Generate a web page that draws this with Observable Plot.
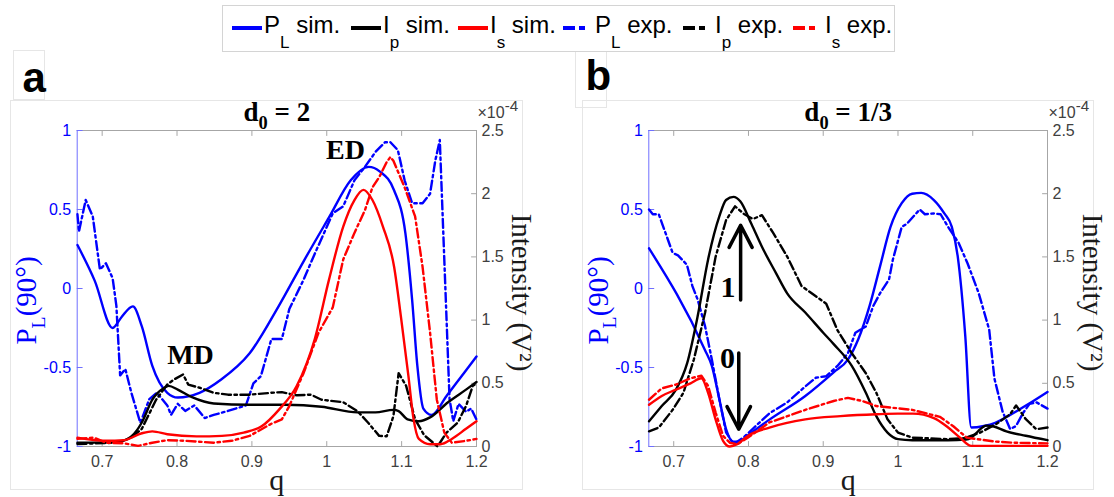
<!DOCTYPE html>
<html><head><meta charset="utf-8">
<script src="https://cdn.jsdelivr.net/npm/d3@7"></script>
<script src="https://cdn.jsdelivr.net/npm/@observablehq/plot@0.6"></script>
<style>
body{margin:0;background:#fff;}
#fig{position:relative;width:1114px;height:497px;overflow:hidden;font-family:"Liberation Sans",Arial,sans-serif;}
#fig svg.layer{position:absolute;left:0;top:0;}
.box{position:absolute;border:1px solid #e6e6e6;box-sizing:border-box;}
.leg{position:absolute;font-size:24px;line-height:24px;color:#000;white-space:nowrap;}
.leg .sub{position:relative;top:15px;font-size:17px;}
</style></head><body><div id="fig"></div>
<script>
// ---------- data ----------
const xTicks = [0.7, 0.8, 0.9, 1, 1.1, 1.2];
const plTicks = [-1, -0.5, 0, 0.5, 1];
const intTicks = [0, 0.5, 1, 1.5, 2, 2.5];
const qDomain = [2/3, 1.2];
const plDomain = [-1, 1];
const intDomain = [0, 2.5];   // units of 1e-4 V^2

// panel a (d0 = 2): [q, value]
const aPLsim = [[0.667,0.275],[0.690,0.05],[0.714,-0.25],[0.726,-0.18],[0.741,-0.113],[0.753,-0.24],[0.767,-0.49],[0.787,-0.66],[0.801,-0.69],[0.830,-0.66],[0.859,-0.576],[0.897,-0.41],[0.936,-0.11],[0.970,0.18],[1.003,0.45],[1.032,0.685],[1.056,0.77],[1.071,0.74],[1.090,0.62],[1.105,0.35],[1.114,-0.07],[1.121,-0.49],[1.129,-0.76],[1.140,-0.80],[1.160,-0.68],[1.180,-0.555],[1.2,-0.43]];
const aPLexp = [[0.667,0.47],[0.669,0.36],[0.678,0.56],[0.6875,0.455],[0.697,0.12],[0.705,0.16],[0.714,0.065],[0.719,-0.11],[0.724,-0.55],[0.731,-0.51],[0.739,-0.66],[0.751,-0.85],[0.763,-0.70],[0.773,-0.66],[0.787,-0.74],[0.792,-0.80],[0.801,-0.73],[0.811,-0.775],[0.823,-0.74],[0.837,-0.82],[0.849,-0.80],[0.868,-0.775],[0.892,-0.74],[0.902,-0.60],[0.912,-0.555],[0.926,-0.32],[0.940,-0.32],[0.950,-0.13],[0.969,0.055],[0.984,0.22],[1.008,0.475],[1.022,0.52],[1.037,0.685],[1.051,0.77],[1.066,0.87],[1.078,0.926],[1.085,0.926],[1.095,0.875],[1.104,0.685],[1.114,0.54],[1.128,0.54],[1.138,0.60],[1.145,0.81],[1.151,0.94],[1.154,0.56],[1.159,-0.07],[1.164,-0.70],[1.169,-0.84],[1.176,-0.73],[1.186,-0.78],[1.193,-0.76],[1.2,-0.83]];
const aIpsim = [[0.667,0.03],[0.72,0.035],[0.739,0.08],[0.753,0.19],[0.767,0.37],[0.782,0.46],[0.789,0.48],[0.801,0.45],[0.820,0.39],[0.849,0.34],[0.897,0.33],[0.945,0.33],[0.993,0.315],[1.041,0.27],[1.065,0.27],[1.089,0.29],[1.096,0.28],[1.108,0.215],[1.123,0.20],[1.138,0.23],[1.162,0.35],[1.186,0.45],[1.2,0.51]];
const aIpexp = [[0.667,0.02],[0.72,0.03],[0.739,0.07],[0.753,0.14],[0.772,0.37],[0.787,0.49],[0.796,0.53],[0.808,0.57],[0.815,0.49],[0.830,0.465],[0.849,0.425],[0.868,0.41],[0.897,0.41],[0.926,0.425],[0.940,0.43],[0.960,0.405],[0.979,0.41],[0.993,0.37],[1.022,0.35],[1.041,0.28],[1.055,0.19],[1.070,0.084],[1.080,0.08],[1.089,0.24],[1.096,0.58],[1.106,0.48],[1.118,0.215],[1.130,0.09],[1.148,0.0],[1.160,0.11],[1.175,0.19],[1.186,0.32],[1.195,0.48],[1.2,0.50]];
const aIssim = [[0.667,0.07],[0.705,0.045],[0.729,0.05],[0.753,0.105],[0.767,0.12],[0.787,0.097],[0.826,0.08],[0.860,0.084],[0.889,0.11],[0.913,0.16],[0.936,0.29],[0.960,0.48],[0.984,0.85],[1.003,1.32],[1.022,1.74],[1.037,1.95],[1.049,2.03],[1.061,1.95],[1.075,1.74],[1.090,1.42],[1.099,1.03],[1.109,0.56],[1.116,0.215],[1.123,0.06],[1.138,0.018],[1.152,0.018],[1.167,0.06],[1.186,0.14],[1.2,0.2]];
const aIsexp = [[0.667,0.06],[0.689,0.07],[0.705,0.03],[0.729,0.025],[0.748,0.005],[0.767,0.03],[0.787,0.05],[0.811,0.045],[0.849,0.03],[0.873,0.045],[0.897,0.084],[0.926,0.18],[0.940,0.215],[0.950,0.32],[0.969,0.58],[0.989,0.9],[1.008,1.1],[1.022,1.48],[1.037,1.69],[1.051,1.87],[1.061,2.05],[1.070,2.13],[1.080,2.25],[1.085,2.29],[1.089,2.26],[1.104,2.05],[1.118,1.82],[1.128,1.42],[1.138,0.9],[1.147,0.37],[1.157,0.11],[1.167,0.03],[1.186,0.045],[1.2,0.06]];

// panel b (d0 = 1/3)
const bPLsim = [[0.667,0.254],[0.7416,-0.387],[0.751,-0.49],[0.761,-0.70],[0.770,-0.89],[0.780,-0.97],[0.787,-0.97],[0.799,-0.93],[0.828,-0.83],[0.876,-0.68],[0.914,-0.53],[0.933,-0.45],[0.947,-0.32],[0.962,-0.11],[0.976,0.14],[0.990,0.39],[1.005,0.54],[1.019,0.60],[1.031,0.605],[1.048,0.56],[1.062,0.475],[1.072,0.39],[1.080,0.2],[1.090,-0.3],[1.098,-0.88],[1.115,-0.87],[1.130,-0.85],[1.150,-0.80],[1.175,-0.73],[1.2,-0.655]];
const bPLexp = [[0.667,0.50],[0.672,0.47],[0.680,0.47],[0.6986,0.225],[0.7057,0.21],[0.7177,0.15],[0.725,0.015],[0.732,-0.07],[0.742,-0.24],[0.751,-0.45],[0.761,-0.70],[0.770,-0.91],[0.780,-0.985],[0.794,-0.94],[0.828,-0.79],[0.852,-0.72],[0.876,-0.62],[0.890,-0.565],[0.904,-0.555],[0.919,-0.49],[0.933,-0.41],[0.943,-0.28],[0.957,-0.24],[0.967,-0.11],[0.976,-0.03],[0.988,0.057],[0.993,0.18],[1.005,0.39],[1.012,0.41],[1.029,0.50],[1.036,0.47],[1.048,0.475],[1.057,0.47],[1.067,0.39],[1.081,0.29],[1.093,0.16],[1.108,-0.03],[1.122,-0.26],[1.129,-0.57],[1.140,-0.78],[1.150,-0.89],[1.158,-0.87],[1.167,-0.79],[1.176,-0.73],[1.185,-0.72],[1.2,-0.76]];
const bIpsim = [[0.667,0.2],[0.684,0.32],[0.703,0.45],[0.718,0.66],[0.732,1.03],[0.746,1.48],[0.761,1.82],[0.770,1.95],[0.780,1.975],[0.789,1.94],[0.804,1.76],[0.818,1.58],[0.837,1.37],[0.852,1.21],[0.876,1.06],[0.900,0.9],[0.914,0.81],[0.938,0.64],[0.957,0.425],[0.971,0.24],[0.986,0.11],[1.000,0.058],[1.019,0.05],[1.067,0.05],[1.091,0.055],[1.098,0.07],[1.107,0.12],[1.118,0.165],[1.127,0.16],[1.145,0.12],[1.171,0.085],[1.2,0.05]];
const bIpexp = [[0.667,0.12],[0.680,0.15],[0.6986,0.29],[0.713,0.425],[0.727,0.69],[0.742,1.06],[0.756,1.5],[0.770,1.79],[0.782,1.9],[0.794,1.84],[0.806,1.8],[0.818,1.83],[0.833,1.69],[0.852,1.5],[0.871,1.27],[0.885,1.21],[0.904,1.13],[0.919,0.92],[0.938,0.74],[0.957,0.58],[0.971,0.425],[0.986,0.215],[1.000,0.11],[1.019,0.07],[1.067,0.058],[1.088,0.065],[1.110,0.11],[1.132,0.18],[1.150,0.255],[1.158,0.325],[1.171,0.216],[1.185,0.137],[1.2,0.15]];
const bIssim = [[0.667,0.33],[0.684,0.40],[0.703,0.45],[0.7225,0.50],[0.737,0.54],[0.746,0.425],[0.756,0.215],[0.766,0.045],[0.775,0.0],[0.785,0.018],[0.799,0.084],[0.828,0.15],[0.876,0.215],[0.923,0.24],[0.971,0.255],[1.000,0.26],[1.020,0.26],[1.048,0.225],[1.065,0.16],[1.083,0.07],[1.098,0.005],[1.2,0.005]];
const bIsexp = [[0.667,0.37],[0.684,0.46],[0.703,0.49],[0.7225,0.54],[0.737,0.56],[0.746,0.48],[0.756,0.27],[0.766,0.084],[0.775,0.03],[0.785,0.018],[0.799,0.07],[0.828,0.19],[0.876,0.29],[0.914,0.36],[0.933,0.385],[0.952,0.36],[0.971,0.32],[1.019,0.29],[1.056,0.235],[1.074,0.16],[1.092,0.07],[1.110,0.055],[1.128,0.04],[1.154,0.03],[1.2,0.025]];

// annotations
const aNotes = ["MD", "ED"];
const aNotesQ = [0.818, 1.025];
const aNotesPL = [-0.42, 0.874];
const bArrowQ = [0.7895, 0.787];
const bArrowFrom = [1.16, 0.74];
const bArrowTo = [1.75, 0.137];
const bArrowText = ["1", "0"];
const bArrowTextQ = [0.7727, 0.772];
const bArrowTextI = [1.26, 0.70];

const legendLabels = [["P","L"," sim."],["I","p"," sim."],["I","s"," sim."],["P","L"," exp."],["I","p"," exp."],["I","s"," exp."]];
const legendColors = ["blue","black","red","blue","black","red"];
const legendDashed = [false,false,false,true,true,true];

// ---------- styling / layout ----------
const W = 1114, H = 497, TOP = 130, BOTTOM = 446;
const SANS = "'Liberation Sans', Arial, sans-serif";
const SERIF = "'Liberation Serif', 'Times New Roman', serif";
const GRAY = "#a6a6a6", AXBLUE = "#6f6fff", LBL = "#404040";
const DASH = "9,3.5,2.5,3.5";
const LW = 2.4;
const fmt = d => String(d);
const tickShape = {draw(ctx, l) { ctx.moveTo(0, 0); ctx.lineTo(0, -l); }};
const tickMarks = (ticks, ch, anchor, rotate, stroke) =>
  Plot.vector(ticks, {[ch]: d => d, frameAnchor: anchor, rotate, length: 5, anchor: "start", shape: tickShape, stroke, strokeWidth: 1});
const series = (data, stroke, dashed) =>
  Plot.line(data, {x: d => d[0], y: d => d[1], stroke, strokeWidth: LW, curve: dashed ? "linear" : "monotone-x", strokeDasharray: dashed ? DASH : null, strokeLinejoin: "round"});
const label = (txt, o) => Plot.text([txt], {text: d => d, textAnchor: "middle", lineAnchor: "middle", ...o});

const fig = document.getElementById("fig");

function panel(p) {
  const common = {
    width: W, height: H, marginLeft: p.left, marginRight: W - p.right, marginTop: TOP, marginBottom: H - BOTTOM,
    style: {background: "transparent", overflow: "visible", fontFamily: SANS, fontSize: "16px"},
    x: {domain: qDomain, axis: null}
  };
  const left = Plot.plot({...common, y: {domain: plDomain, axis: null}, marks: [
    Plot.ruleY([plDomain[1]], {stroke: GRAY}),
    Plot.ruleY([plDomain[0]], {stroke: GRAY}),
    Plot.ruleX([qDomain[1]], {stroke: GRAY}),
    Plot.ruleX([qDomain[0]], {stroke: AXBLUE}),
    tickMarks(xTicks, "x", "bottom", 0, GRAY),
    tickMarks(xTicks, "x", "top", 180, GRAY),
    tickMarks(plTicks, "y", "left", 90, AXBLUE),
    Plot.axisX({anchor: "bottom", ticks: xTicks, tickSize: 0, tickPadding: 9, tickFormat: fmt, fill: LBL, label: null, fontSize: 16}),
    Plot.axisY({anchor: "left", ticks: plTicks, tickSize: 0, tickPadding: 6, tickFormat: fmt, fill: "blue", label: null, fontSize: 16}),
    series(p.plSim, "blue", false),
    series(p.plExp, "blue", true),
    label("P_{L}(90°)", {frameAnchor: "left", dx: -50, dy: 12, rotate: -90, fill: "blue", fontSize: 29, fontFamily: SERIF}),
    label("q", {frameAnchor: "bottom", dy: 34, fill: "#1a1a1a", fontSize: 30, fontFamily: SERIF}),
    label(p.title, {frameAnchor: "top", dy: -18, fill: "#000", fontSize: 27, fontWeight: "bold", fontFamily: SERIF}),
    label(p.letter, {frameAnchor: "top-left", dx: p.letterDx, dy: p.letterDy, textAnchor: "start", fill: "#000", fontSize: 42, fontWeight: "bold", fontFamily: SANS}),
    ...(p.extraLeft || [])
  ]});
  const right = Plot.plot({...common, y: {domain: intDomain, axis: null}, marks: [
    tickMarks(intTicks, "y", "right", -90, GRAY),
    Plot.axisY({anchor: "right", ticks: intTicks, tickSize: 0, tickPadding: 5, tickFormat: fmt, fill: LBL, label: null, fontSize: 16}),
    series(p.ipSim, "black", false),
    series(p.ipExp, "black", true),
    series(p.isSim, "red", false),
    series(p.isExp, "red", true),
    label("Intensity (V²)", {frameAnchor: "right", dx: 45, dy: 4, rotate: 90, fill: "#1a1a1a", fontSize: 29, fontFamily: SERIF}),
    label("×10^{-4}", {frameAnchor: "top-right", dx: 1, dy: -17.5, textAnchor: "start", fill: LBL, fontSize: 16, fontFamily: SANS}),
    ...(p.extraRight || [])
  ]});
  for (const s of [left, right]) { s.classList.add("layer"); fig.appendChild(s); }
}

// faint panel boxes
for (const [l, t, w, h] of [[10,100,513,390],[13,50,32,50],[582,100,512,390],[575,50,32,58]]) {
  const d = document.createElement("div"); d.className = "box";
  Object.assign(d.style, {left: l + "px", top: t + "px", width: w + "px", height: h + "px"});
  fig.appendChild(d);
}

panel({
  left: 76.7, right: 476, title: "d_{0} = 2", letter: "a", letterDx: -54.7, letterDy: -52,
  plSim: aPLsim, plExp: aPLexp, ipSim: aIpsim, ipExp: aIpexp, isSim: aIssim, isExp: aIsexp,
  extraLeft: [Plot.text(aNotes, {x: (d, i) => aNotesQ[i], y: (d, i) => aNotesPL[i], text: d => d, fontSize: 28, fontWeight: "bold", fontFamily: SERIF, fill: "#000"})]
});
panel({
  left: 648.3, right: 1047, title: "d_{0} = 1/3", letter: "b", letterDx: -63.3, letterDy: -54,
  plSim: bPLsim, plExp: bPLexp, ipSim: bIpsim, ipExp: bIpexp, isSim: bIssim, isExp: bIsexp,
  extraRight: [
    Plot.arrow(bArrowQ, {x1: d => d, x2: d => d, y1: (d, i) => bArrowFrom[i], y2: (d, i) => bArrowTo[i], stroke: "#000", strokeWidth: 3.5, headLength: 13, headAngle: 55}),
    Plot.text(bArrowText, {x: (d, i) => bArrowTextQ[i], y: (d, i) => bArrowTextI[i], text: d => d, fontSize: 30, fontWeight: "bold", fontFamily: SERIF, fill: "#000"})
  ]
});

// sub/superscript markup: "_{..}" and "^{..}"
function markup(root) {
  for (const el of root.querySelectorAll("text")) {
    const s = el.textContent;
    if (!/[_^]\{/.test(s)) continue;
    const fs = parseFloat(getComputedStyle(el).fontSize) || 16;
    const parts = s.split(/([_^]\{[^}]*\})/).filter(x => x !== "");
    while (el.firstChild) el.removeChild(el.firstChild);
    let shift = 0;
    for (const part of parts) {
      const t = document.createElementNS("http://www.w3.org/2000/svg", "tspan");
      const m = part.match(/^([_^])\{([^}]*)\}$/);
      if (m) {
        const sh = m[1] === "_" ? fs * 0.28 : -fs * 0.45;
        t.setAttribute("dy", sh - shift); shift = sh;
        t.setAttribute("font-size", (m[1] === "_" ? fs * 0.68 : fs * 0.95));
        t.textContent = m[2];
      } else {
        if (shift !== 0) { t.setAttribute("dy", -shift); shift = 0; }
        t.textContent = part;
      }
      el.appendChild(t);
    }
  }
}
markup(fig);

// legend
const legBox = document.createElement("div"); legBox.className = "box";
Object.assign(legBox.style, {left: "222px", top: "5px", width: "673px", height: "47px", borderColor: "#d4d4d4", background: "#fff"});
fig.appendChild(legBox);
const legX = [264, 383, 490, 595, 715, 825];
const ns = "http://www.w3.org/2000/svg";
const legSvg = document.createElementNS(ns, "svg");
legSvg.setAttribute("width", W); legSvg.setAttribute("height", 60);
Object.assign(legSvg.style, {position: "absolute", left: "0px", top: "0px"});
legendLabels.forEach((lab, i) => {
  const ln = document.createElementNS(ns, "line");
  const x0 = legX[i] - 32, x1 = legX[i] - (legendDashed[i] ? 6 : 2);
  ln.setAttribute("x1", x0); ln.setAttribute("x2", x1); ln.setAttribute("y1", 28); ln.setAttribute("y2", 28);
  ln.setAttribute("stroke", legendColors[i]); ln.setAttribute("stroke-width", 4);
  if (legendDashed[i]) ln.setAttribute("stroke-dasharray", "12,4,6,4");
  legSvg.appendChild(ln);
  const d = document.createElement("div"); d.className = "leg";
  d.style.left = legX[i] + "px"; d.style.top = "13px";
  d.innerHTML = lab[0] + '<span class="sub">' + lab[1] + '</span>' + lab[2];
  fig.appendChild(d);
});
fig.appendChild(legSvg);
</script></body></html>
